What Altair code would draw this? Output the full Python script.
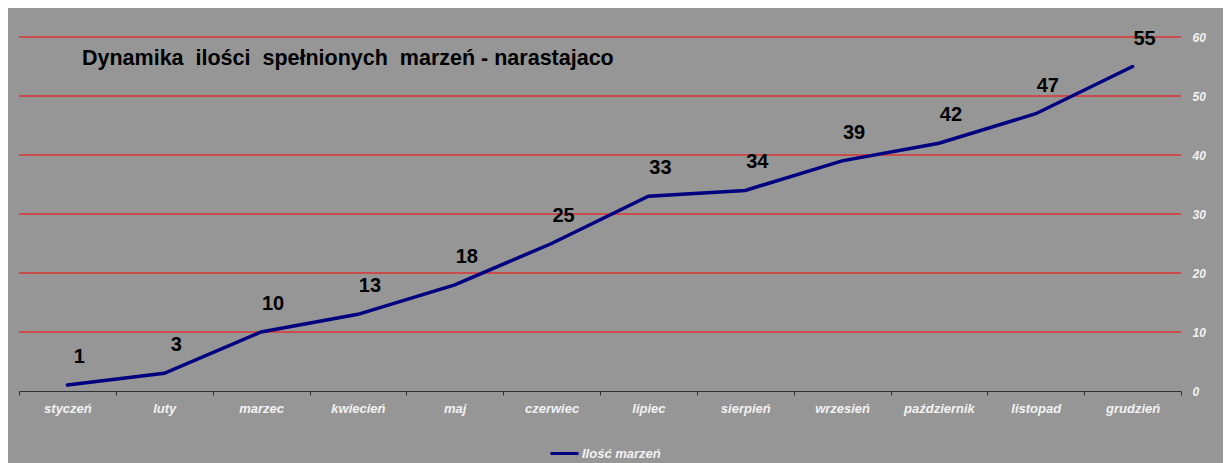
import altair as alt
import pandas as pd

months = ["styczeń", "luty", "marzec", "kwiecień", "maj", "czerwiec",
          "lipiec", "sierpień", "wrzesień", "październik", "listopad", "grudzień"]
values = [1, 3, 10, 13, 18, 25, 33, 34, 39, 42, 47, 55]
series_name = "Ilość marzeń"
y_ticks = [0, 10, 20, 30, 40, 50, 60]
grid_lines = [10, 20, 30, 40, 50, 60]
title_text = "Dynamika\u00a0 ilości\u00a0 spełnionych\u00a0 marzeń - narastajaco"

df = pd.DataFrame({"month": months, "value": values, "series": series_name})
grid_df = pd.DataFrame({"g": grid_lines})

FONT = "Liberation Sans"
yscale = alt.Scale(domain=[0, 60], nice=False, zero=True)
xscale = alt.Scale(type="band", paddingInner=0, paddingOuter=0)

y_axis = alt.Axis(orient="right", values=y_ticks, grid=False, domain=False, ticks=False)

x_enc = alt.X(
    "month:N", sort=months, scale=xscale, title=None,
    axis=alt.Axis(orient="bottom", labelAngle=0, tickBand="extent", grid=False),
)

grid = alt.Chart(grid_df).mark_rule(color="#ff0000", strokeWidth=1).encode(
    y=alt.Y("g:Q", scale=yscale, title=None, axis=y_axis)
)

line = alt.Chart(df).mark_line(strokeWidth=3.5, strokeCap="round").encode(
    x=x_enc,
    y=alt.Y("value:Q", scale=yscale, title=None, axis=y_axis),
    color=alt.Color(
        "series:N",
        scale=alt.Scale(domain=[series_name], range=["#000080"]),
        legend=alt.Legend(
            title=None, orient="none", legendX=530, legendY=401,
            symbolType="stroke", symbolStrokeWidth=3, symbolSize=784,
            labelFont=FONT, labelFontStyle="italic", labelFontWeight="bold",
            labelFontSize=13, labelColor="#f2f2f2", labelOffset=2, padding=0,
        ),
    ),
)

labels = alt.Chart(df).mark_text(
    font=FONT, fontSize=20, fontWeight="bold", color="#000000",
    dx=12, dy=-28, baseline="middle", align="center",
).encode(
    x=alt.X("month:N", sort=months, scale=xscale),
    y=alt.Y("value:Q", scale=yscale, axis=y_axis),
    text=alt.Text("value:Q"),
)

chart = (
    alt.layer(grid, line, labels)
    .properties(
        width=1162, height=354,
        background="#969696",
        padding={"left": 11, "top": 29, "right": 42, "bottom": 72},
        autosize=alt.AutoSizeParams(type="none"),
        title=alt.TitleParams(
            text=title_text, anchor="start", frame="group", orient="top",
            font=FONT, fontSize=21.5, fontWeight="bold", color="#000000",
            baseline="alphabetic", offset=0, dx=63, dy=58,
        ),
    )
    .configure_view(stroke=None)
    .configure_axisY(
        labelFont=FONT, labelFontStyle="italic", labelFontWeight="bold",
        labelFontSize=12, labelColor="#f2f2f2", labelPadding=11,
    )
    .configure_axisX(
        domainColor="#303030", domainWidth=1, tickColor="#303030", tickSize=4,
        labelFont=FONT, labelFontStyle="italic", labelFontWeight="bold",
        labelFontSize=13, labelColor="#f2f2f2", labelPadding=7,
    )
)

chart.save("out.html", embed_options={"renderer": "svg", "actions": False})
